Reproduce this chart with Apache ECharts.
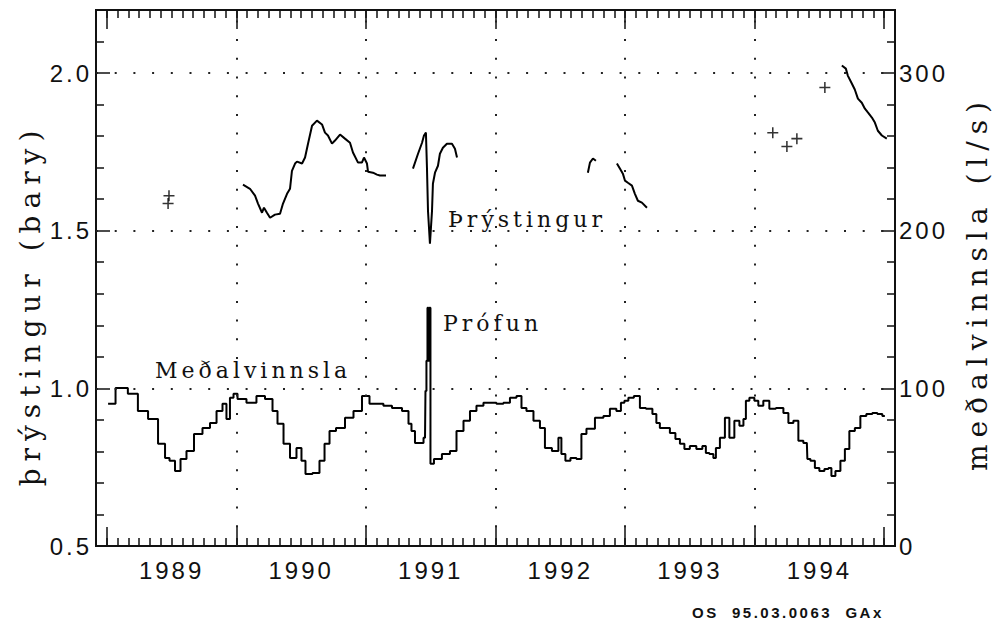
<!DOCTYPE html>
<html>
<head>
<meta charset="utf-8">
<title>Þrýstingur og meðalvinnsla</title>
<script src="https://cdn.jsdelivr.net/npm/echarts@6/dist/echarts.min.js"></script>
<style>
  html, body { margin: 0; padding: 0; background: #fff; }
  #chart { width: 997px; height: 632px; }
  /* the original lettering is set wide */
  #chart text[style*="24px"] { letter-spacing: 3px; }
  #chart text[style*="28px"] { letter-spacing: 7px; }
  #chart text[style*="22px"] { letter-spacing: 4px; }
  #chart text[style*="15px"] { letter-spacing: 2.5px; }
</style>
</head>
<body>
<div id="chart"></div>
<script>
// meðalvinnsla (l/s), [year, value], right axis
var flow = [
  [1989.01, 90.2], [1989.125, 100.3], [1989.2, 96.5], [1989.28, 85.7], [1989.357, 80.6],
  [1989.434, 64.8], [1989.465, 55.9], [1989.503, 54.0], [1989.55, 47.6], [1989.588, 55.2],
  [1989.642, 60.3], [1989.704, 71.1], [1989.773, 74.9], [1989.82, 78.1], [1989.874, 85.7],
  [1989.912, 90.2], [1989.935, 80.6], [1989.966, 94.0], [1989.99, 96.5],
  [1990.028, 93.3], [1990.128, 90.8], [1990.182, 95.2], [1990.26, 93.3], [1990.298, 85.7],
  [1990.337, 77.5], [1990.391, 64.8], [1990.437, 55.9], [1990.491, 62.2], [1990.514, 54.0],
  [1990.553, 45.7], [1990.622, 46.3], [1990.661, 54.0], [1990.7, 64.8], [1990.738, 73.0],
  [1990.8, 74.9], [1990.877, 81.3], [1990.931, 85.7],
  [1991.008, 95.2], [1991.047, 90.2], [1991.108, 90.2], [1991.162, 88.9], [1991.24, 87.6],
  [1991.317, 85.7], [1991.34, 77.5], [1991.363, 73.0], [1991.394, 65.4], [1991.433, 65.4],
  [1991.456, 68.6], [1991.463, 98.4], [1991.471, 117.5], [1991.479, 151.1], [1991.486, 117.5],
  [1991.494, 151.1], [1991.502, 52.1], [1991.548, 55.2], [1991.625, 58.4], [1991.672, 60.3],
  [1991.726, 73.0], [1991.78, 79.4], [1991.826, 85.7], [1991.88, 88.9], [1991.934, 90.8],
  [1991.98, 90.8],
  [1992.034, 90.2], [1992.088, 90.8], [1992.135, 94.0], [1992.189, 95.2], [1992.212, 87.6],
  [1992.266, 85.7], [1992.32, 79.4], [1992.366, 74.9], [1992.397, 62.2], [1992.474, 60.3],
  [1992.497, 68.6], [1992.52, 58.4], [1992.559, 54.0], [1992.598, 55.9], [1992.651, 55.2],
  [1992.675, 71.1], [1992.729, 74.3], [1992.806, 81.3], [1992.86, 82.5], [1992.906, 87.0],
  [1992.96, 85.7], [1992.976, 90.8],
  [1993.014, 92.1], [1993.037, 94.0], [1993.099, 95.2], [1993.13, 87.6], [1993.192, 87.0],
  [1993.23, 83.8], [1993.253, 78.1], [1993.284, 74.9], [1993.323, 74.9], [1993.369, 71.7],
  [1993.408, 67.9], [1993.439, 64.8], [1993.477, 61.6], [1993.523, 63.5], [1993.577, 61.6],
  [1993.616, 63.5], [1993.631, 59.0], [1993.67, 58.4], [1993.693, 55.9], [1993.709, 62.2],
  [1993.755, 68.6], [1993.786, 81.3], [1993.824, 68.6], [1993.863, 79.4], [1993.902, 76.2],
  [1993.925, 80.6], [1993.94, 92.1], [1993.979, 94.0],
  [1994.017, 92.1], [1994.04, 88.9], [1994.094, 92.1], [1994.133, 87.0], [1994.195, 87.6],
  [1994.249, 84.4], [1994.272, 78.1], [1994.326, 79.4], [1994.349, 66.7], [1994.403, 65.4],
  [1994.411, 55.2], [1994.45, 54.0], [1994.48, 49.5], [1994.519, 47.6], [1994.558, 48.9],
  [1994.581, 49.5], [1994.604, 44.4], [1994.643, 47.6], [1994.681, 54.0], [1994.712, 61.6],
  [1994.75, 73.0], [1994.797, 74.9], [1994.835, 82.5], [1994.889, 83.8], [1994.928, 84.4],
  [1994.966, 83.8], [1995.005, 82.5]
];

// þrýstingur (bary), left axis, separate pieces of record
var presA = [
  [1990.051, 1.646], [1990.105, 1.633], [1990.144, 1.611], [1990.167, 1.586], [1990.198, 1.557],
  [1990.213, 1.573], [1990.236, 1.557], [1990.26, 1.541], [1990.298, 1.551], [1990.337, 1.554],
  [1990.36, 1.586], [1990.391, 1.617], [1990.414, 1.633], [1990.429, 1.690], [1990.453, 1.713],
  [1990.468, 1.719], [1990.507, 1.713], [1990.53, 1.732], [1990.553, 1.776], [1990.584, 1.833],
  [1990.622, 1.849], [1990.661, 1.837], [1990.684, 1.811], [1990.707, 1.802], [1990.738, 1.776],
  [1990.761, 1.786], [1990.8, 1.805], [1990.838, 1.792], [1990.877, 1.779], [1990.9, 1.748],
  [1990.939, 1.716], [1990.969, 1.716], [1990.985, 1.732], [1991.008, 1.713], [1991.016, 1.687],
  [1991.054, 1.684], [1991.085, 1.678], [1991.108, 1.675], [1991.155, 1.675]
];
var presB = [
  [1991.363, 1.697], [1991.402, 1.744], [1991.433, 1.779], [1991.448, 1.802], [1991.463, 1.811],
  [1991.471, 1.700], [1991.479, 1.563], [1991.494, 1.459], [1991.51, 1.563], [1991.517, 1.649],
  [1991.533, 1.684], [1991.556, 1.706], [1991.571, 1.744], [1991.594, 1.763], [1991.625, 1.776],
  [1991.664, 1.776], [1991.687, 1.760], [1991.703, 1.732]
];
var presC = [
  [1992.713, 1.684], [1992.729, 1.716], [1992.752, 1.729], [1992.775, 1.722]
];
var presD = [
  [1992.937, 1.713], [1992.96, 1.697], [1992.983, 1.681], [1992.999, 1.659], [1993.022, 1.652],
  [1993.053, 1.643], [1993.076, 1.617], [1993.099, 1.595], [1993.13, 1.589], [1993.169, 1.573]
];
var presE = [
  [1994.673, 2.024], [1994.704, 2.014], [1994.719, 1.992], [1994.75, 1.967], [1994.773, 1.948],
  [1994.797, 1.919], [1994.827, 1.906], [1994.851, 1.887], [1994.874, 1.875], [1994.905, 1.859],
  [1994.928, 1.843], [1994.951, 1.817], [1994.982, 1.802], [1995.02, 1.792]
];
// single readings
var presPoints = [
  [1989.48, 1.611], [1989.473, 1.586],
  [1994.14, 1.811], [1994.249, 1.767], [1994.326, 1.792], [1994.542, 1.954]
];

var yearLabels = [1989, 1990, 1991, 1992, 1993, 1994];
var yearGrid = [1990, 1991, 1992, 1993, 1994];
var yearTicks = [1989, 1990, 1991, 1992, 1993, 1994, 1995];
var presLevels = [1.0, 1.5, 2.0];
var presTicks = [0.5, 1.0, 1.5, 2.0];
var flowTicks = [0, 100, 200, 300];

var xMin = 1988 + 11 / 12;
var xMax = 1995 + 1 / 12;

var monthTicks = [];
for (var m = 0; m <= 74; m++) monthTicks.push(xMin + m / 12);
var presMinor = [];
for (var k = 6; k <= 21; k++) if (k % 5 != 0) presMinor.push(k / 10);
var flowMinor = [];
for (var f = 20; f <= 320; f += 20) if (f % 100 != 0) flowMinor.push(f);

var ink = '#111';
var tickFont = { fontFamily: 'Liberation Sans', fontSize: 24, color: ink };

function xAx(pos, ticks, len, showLine, labels) {
  return {
    type: 'value', position: pos, min: xMin, max: xMax, offset: 0,
    axisLine: { show: showLine, lineStyle: { color: ink, width: 2 } },
    axisTick: { show: true, inside: true, length: len, customValues: ticks, lineStyle: { color: ink, width: 1.5 } },
    axisLabel: labels ? {
      show: true, margin: 12, customValues: yearLabels.map(function (y) { return y + 0.5; }),
      formatter: function (v) { return String(Math.floor(v)); },
      fontFamily: tickFont.fontFamily, fontSize: tickFont.fontSize, color: ink
    } : { show: false },
    splitLine: { show: false }
  };
}

function yAx(pos, min, max, ticks, len, showLine, labels, fmt) {
  return {
    type: 'value', position: pos, min: min, max: max, offset: 0,
    axisLine: { show: showLine, lineStyle: { color: ink, width: 2 } },
    axisTick: { show: true, inside: true, length: len, customValues: ticks, lineStyle: { color: ink, width: 1.5 } },
    axisLabel: labels ? {
      show: true, margin: 4, customValues: labels, formatter: fmt,
      fontFamily: tickFont.fontFamily, fontSize: tickFont.fontSize, color: ink
    } : { show: false },
    splitLine: { show: false }
  };
}

var lineStyle = { color: '#000', width: 2 };
function presSeries(data, withGrid) {
  var s = {
    type: 'line', xAxisIndex: 0, yAxisIndex: 0, data: data,
    symbol: 'none', lineStyle: lineStyle, silent: true
  };
  if (withGrid) {
    s.markLine = {
      silent: true, symbol: ['none', 'none'], label: { show: false },
      lineStyle: { color: '#222', width: 2, type: [2, 16.7] },
      data: yearGrid.map(function (x) { return { xAxis: x }; })
        .concat(presLevels.map(function (y) { return { yAxis: y }; }))
    };
  }
  return s;
}

var chart = echarts.init(document.getElementById('chart'), null, { renderer: 'svg' });
chart.setOption({
  animation: false,
  backgroundColor: '#fff',
  grid: { left: 96, right: 102, top: 10, bottom: 86, show: true, borderColor: ink, borderWidth: 2 },
  xAxis: [
    xAx('bottom', monthTicks, 8, true, true),
    xAx('bottom', yearTicks, 19, false, false),
    xAx('top', monthTicks, 8, true, false),
    xAx('top', yearTicks, 19, false, false)
  ],
  yAxis: [
    yAx('left', 0.5, 2.2, presTicks, 14, true, presTicks, function (v) { return v.toFixed(1); }),
    yAx('left', 0.5, 2.2, presMinor, 8, false, null),
    yAx('right', 0, 340, flowTicks, 14, true, flowTicks, function (v) { return String(v); }),
    yAx('right', 0, 340, flowMinor, 8, false, null)
  ],
  series: [
    presSeries(presA, true),
    presSeries(presB),
    presSeries(presC),
    presSeries(presD),
    presSeries(presE),
    {
      type: 'scatter', xAxisIndex: 0, yAxisIndex: 0, data: presPoints, silent: true,
      symbol: 'path://M4.3,0H5.7V10H4.3ZM0,4.3H10V5.7H0Z', symbolSize: 11,
      itemStyle: { color: '#000' }
    },
    {
      name: 'Meðalvinnsla', type: 'line', xAxisIndex: 0, yAxisIndex: 2, data: flow,
      step: 'middle', symbol: 'none', lineStyle: lineStyle, silent: true
    }
  ],
  graphic: [
    { type: 'text', x: 30, y: 305, rotation: Math.PI / 2,
      style: { text: 'þrýstingur (bary)', fontFamily: 'DejaVu Serif', fontSize: 28, fill: ink,
        textAlign: 'center', textVerticalAlign: 'middle', align: 'center', verticalAlign: 'middle' } },
    { type: 'text', x: 977, y: 283, rotation: Math.PI / 2,
      style: { text: 'meðalvinnsla (l/s)', fontFamily: 'DejaVu Serif', fontSize: 28, fill: ink,
        textAlign: 'center', textVerticalAlign: 'middle', align: 'center', verticalAlign: 'middle' } },
    { type: 'text', x: 155, y: 370,
      style: { text: 'Meðalvinnsla', fontFamily: 'DejaVu Serif', fontSize: 22, fill: ink,
        textAlign: 'left', textVerticalAlign: 'middle', align: 'left', verticalAlign: 'middle' } },
    { type: 'text', x: 448, y: 219,
      style: { text: 'Þrýstingur', fontFamily: 'DejaVu Serif', fontSize: 22, fill: ink,
        textAlign: 'left', textVerticalAlign: 'middle', align: 'left', verticalAlign: 'middle' } },
    { type: 'text', x: 443, y: 323,
      style: { text: 'Prófun', fontFamily: 'DejaVu Serif', fontSize: 22, fill: ink,
        textAlign: 'left', textVerticalAlign: 'middle', align: 'left', verticalAlign: 'middle' } },
    { type: 'text', x: 692, y: 612,
      style: { text: 'OS  95.03.0063  GAx', fontFamily: 'Liberation Sans', fontSize: 15, fontWeight: 'bold', fill: ink,
        textAlign: 'left', textVerticalAlign: 'middle', align: 'left', verticalAlign: 'middle' } }
  ]
});
</script>
</body>
</html>
